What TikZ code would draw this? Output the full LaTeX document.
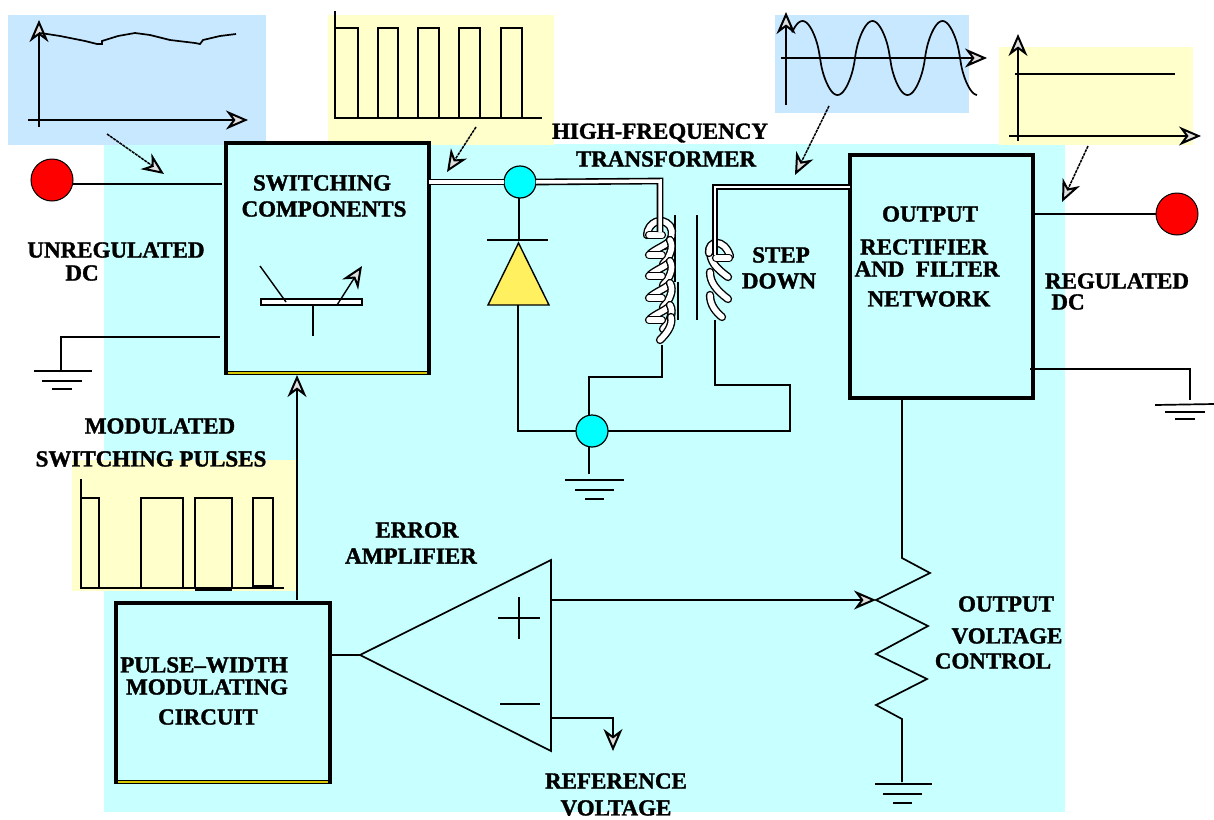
\documentclass[tikz,border=0pt]{standalone}
\usepackage{fontspec}
\setmainfont{Liberation Serif}[BoldFeatures={FakeBold=1.5}]
\usetikzlibrary{arrows.meta}
\definecolor{panelcyan}{HTML}{C8FFFF}
\definecolor{panelblue}{HTML}{C8E8FF}
\definecolor{panelyellow}{HTML}{FFFFCC}
\definecolor{stripcol}{HTML}{D8C800}
\definecolor{diodecol}{HTML}{FFF060}
\definecolor{jcyan}{HTML}{00FFFF}
\tikzset{
  lbl/.style={font=\fontsize{23}{24}\selectfont\bfseries,inner sep=0,outer sep=0},
  wire/.style={line width=1.7pt,line join=miter},
  thin wire/.style={line width=1.4pt},
  opentip/.style={-{Stealth[fill=white!75!gray,length=22pt,width=19pt,inset=7pt,line width=2pt]}},
  openarrow/.style={line width=1.5pt,opentip},
  dasharrow/.style={openarrow,dash pattern=on 3pt off 0.8pt},
  panel/.style={inner sep=0,outer sep=0,draw=none,anchor=north west},
  blockbox/.style={draw,line width=3.4pt,fill=panelcyan,inner sep=0,outer sep=0,anchor=north west},
  strip/.style={draw=stripcol,line width=2.2pt},
  termdot/.style={circle,draw,line width=1pt,fill=red,inner sep=0,outer sep=0,minimum size=42pt},
  junction/.style={circle,draw,line width=1.2pt,fill=jcyan,inner sep=0,outer sep=0,minimum size=32pt},
  dbl/.style={line width=1.6pt,double=white,double distance=3.5pt,line join=miter},
  dbls/.style={line width=1.4pt,double=white,double distance=2.6pt,line join=miter},
  coilw/.style={line width=1.4pt,double=white,double distance=5.5pt,line cap=round},
}
\newcommand{\turnP}[1]{%
  \draw[coilw] (650,#1-1) .. controls (656,#1-6) and (664,#1-9) .. (669,#1-13);
  \draw[coilw] (670,#1-15) .. controls (674,#1-8) and (670,#1+2) .. (663,#1+9);
  \draw[coilw] (662,#1) -- (649,#1);
}
\begin{document}
\begin{tikzpicture}[x=1pt,y=-1pt]
\useasboundingbox (0,0) rectangle (1214,819);
% background panels
\node[panel,fill=panelcyan,minimum width=961pt,minimum height=668pt] (bg) at (104,144) {};
\node[panel,fill=panelblue,minimum width=258pt,minimum height=130pt] (pa) at (8,15) {};
\node[panel,fill=panelyellow,minimum width=226pt,minimum height=130pt] (pb) at (328,15) {};
\node[panel,fill=panelblue,minimum width=194pt,minimum height=98pt] (pc) at (775,15) {};
\node[panel,fill=panelyellow,minimum width=194pt,minimum height=98pt] (pd) at (999,47) {};
\node[panel,fill=panelyellow,minimum width=225pt,minimum height=131pt] (pe) at (72,460) {};
% blocks
\node[blockbox,minimum width=203pt,minimum height=230pt] (sw) at (226,143) {};
\node[blockbox,minimum width=183pt,minimum height=243pt] (out) at (850,155) {};
\node[blockbox,minimum width=214pt,minimum height=179pt] (pwm) at (116,603) {};
\draw[strip] ([xshift=2pt,yshift=0.2pt]sw.south west) -- ([xshift=-2pt,yshift=0.2pt]sw.south east);
\draw[strip] ([xshift=2pt,yshift=0.2pt]pwm.south west) -- ([xshift=-2pt,yshift=0.2pt]pwm.south east);
% graph 1
\coordinate (a1b) at (39,127); \coordinate (a1t) at (39,20);
\coordinate (a1l) at (28,120); \coordinate (a1r) at (248,120);
\draw[openarrow] (a1b) -- (a1t);
\draw[openarrow] (a1l) -- (a1r);
\draw[wire] (39,33) -- (47,34) -- (60,36) -- (70,38) -- (85,41) -- (97,44) -- (102,44) -- (102,41) -- (118,36) -- (135,33) -- (150,35) -- (170,40) -- (195,43) -- (200,44) -- (203,40) -- (220,36) -- (236,34);
\coordinate (n1a) at (107,134); \coordinate (n1b) at (164,174);
\draw[dasharrow] (n1a) -- (n1b);
% graph 2
\draw[wire] (335,11) -- (335,118) -- (542,118);
\foreach \xa/\xb in {335/358,378/398,418/439,459/480,501/522}
  \draw[wire] (\xa,118) -- (\xa,28) -- (\xb,28) -- (\xb,118);
\coordinate (n2a) at (476,127); \coordinate (n2b) at (447,172);
\draw[dasharrow] (n2a) -- (n2b);
% graph 3
\coordinate (a3b) at (786,105); \coordinate (a3t) at (786,12);
\coordinate (a3l) at (781,58); \coordinate (a3r) at (987,58);
\draw[openarrow] (a3b) -- (a3t);
\draw[openarrow] (a3l) -- (a3r);
\draw[wire] plot[smooth,domain=792:977,samples=120] (\x,{58+37*sin((\x-820)/35*180)*(0.55+0.45/(0.3+abs(sin((\x-820)/35*180))))/(0.55+0.45/1.3)});
\coordinate (n3a) at (829,106); \coordinate (n3b) at (795,175);
\draw[dasharrow] (n3a) -- (n3b);
% graph 4
\coordinate (a4b) at (1018,141); \coordinate (a4t) at (1018,34);
\coordinate (a4l) at (1009,136); \coordinate (a4r) at (1201,136);
\draw[openarrow] (a4b) -- (a4t);
\draw[openarrow] (a4l) -- (a4r);
\draw[wire] (1015,74) -- (1175,74);
\coordinate (n4a) at (1088,146); \coordinate (n4b) at (1062,202);
\draw[dasharrow] (n4a) -- (n4b);
% graph 5
\draw[wire] (81,479) -- (81,588) -- (284,588);
\foreach \xa/\xb in {81/99,141/183,195/232,253/273}
  \draw[wire] (\xa,588) -- (\xa,498) -- (\xb,498) -- (\xb,588);
\draw[line width=3pt] (195,589) -- (232,589);
\draw[line width=3pt] (253,586) -- (273,586);
% terminals
\node[termdot] (tl) at (52,180) {};
\node[termdot] (tr) at (1177,214) {};
\coordinate (swi) at (222,184);
\draw[wire] (tl.east |- swi) -- (swi);
\coordinate (outo) at (1033,214);
\draw[wire] (outo) -- (tr);
% left ground
\coordinate (swg) at (220,337); \coordinate (gl) at (61,371);
\draw[wire] (swg) -| (gl);
\draw[wire] (34,371) -- (92,371); \draw[wire] (42,381) -- (82,381); \draw[wire] (52,389) -- (72,389);
% transistor
\node[draw,line width=1.4pt,fill=white,minimum width=101pt,minimum height=6pt,inner sep=0,outer sep=0] (tb) at (311.5,302) {};
\coordinate (tc) at (260,266); \coordinate (tcb) at (286,302);
\coordinate (te) at (362,266); \coordinate (teb) at (337,305);
\coordinate (tba) at (313,336);
\draw[thin wire] (tc) -- (tcb);
\draw[thin wire,opentip] (teb) -- (te);
\draw[wire] (tb.south -| tba) -- (tba);
% core
\draw[thin wire] (675,215) -- (675,282);
\draw[thin wire] (678,282) -- (678,320);
\draw[thin wire] (697,215) -- (697,320);
% primary
\node[junction] (j1) at (520,182) {};
\coordinate (pc1) at (660,181); \coordinate (pc2) at (660,232);
\draw[coilw] (647,235) .. controls (648,222) and (662,216) .. (670,226) .. controls (674,232) and (672,240) .. (665,246);
\draw[coilw] (662,235) -- (649,235);
\foreach \y in {255,276,298,320} { \turnP{\y} }
\draw[coilw] (671,317) .. controls (673,326) and (666,334) .. (660,340);
\draw[dbl] (sw.east |- j1) -- (j1);
\draw[dbl] (j1.east) -- (pc1) -- (pc2);
% secondary
\coordinate (sc1) at (715,187); \coordinate (sc2) at (715,255);
\draw[coilw] (710,295) .. controls (710,305) and (716,312) .. (722,317);
\draw[coilw] (710,272) .. controls (710,282) and (716,290) .. (728,299);
\draw[coilw] (710,250) .. controls (710,262) and (716,268) .. (728,277);
\draw[coilw] (709,253) .. controls (708,240) and (724,238) .. (730,256);
\draw[coilw] (716,258) -- (729,258);
\draw[dbls] (out.west |- sc1) -- (sc1) -- (sc2);
% diode
\coordinate (dt) at (519,240);
\draw[thin wire,fill=diodecol] (518.5,243) -- (549,305) -- (488,305) -- cycle;
\draw[wire] (487,240) -- (548,240);
\draw[wire] (j1.south -| dt) -- (dt);
% lower
\node[junction] (j2) at (592,431) {};
\coordinate (dgb) at (518,305); \coordinate (dgc) at (518,431);
\draw[wire] (dgb) -- (dgc) -- (j2);
\coordinate (pb1) at (662,345); \coordinate (pb2) at (589,377);
\draw[wire] (pb1) |- (pb2) -- (pb2 |- j2.north);
\coordinate (sb1) at (715,320); \coordinate (sb2) at (790,385);
\draw[wire] (sb1) |- (sb2) -- (sb2 |- j2) -- (j2);
\coordinate (g2) at (589,474);
\draw[wire] (j2.south -| g2) -- (g2);
\draw[wire] (565,480) -- (624,480); \draw[wire] (575,490) -- (614,490); \draw[wire] (585,499) -- (604,499);
% feedback up
\coordinate (fb) at (297,600); \coordinate (fbt) at (297,375);
\draw[openarrow] (fb) -- (fbt);
% output to pot
\coordinate (r1) at (902,558); \coordinate (r2) at (902,719); \coordinate (r3) at (902,782);
\draw[wire] (out.south -| r1) -- (r1) -- (930,573) -- (876,600) -- (928,626) -- (876,654) -- (927,679) -- (876,705) -- (r2) -- (r3);
\draw[wire] (875,784) -- (932,784); \draw[wire] (883,794) -- (922,794); \draw[wire] (893,803) -- (912,803);
% right ground
\coordinate (og) at (1030,369); \coordinate (og2) at (1190,400);
\draw[wire] (og) -| (og2);
\draw[wire] (1155,405) -- (1214,404); \draw[wire] (1165,412) -- (1205,412); \draw[wire] (1175,419) -- (1195,419);
% op amp
\node[inner sep=0,outer sep=0] (oa) at (360,655) {};
\draw[wire] (oa.center) -- (551,560) -- (551,751) -- cycle;
\draw[wire] (pwm.east |- oa) -- (oa);
\draw[wire] (498,618) -- (540,618); \draw[wire] (519,597) -- (519,639);
\draw[wire] (500,704) -- (540,704);
\coordinate (ip) at (552,600); \coordinate (ipe) at (876,600);
\draw[openarrow] (ip) -- (ipe);
\coordinate (rf) at (550,718); \coordinate (rfe) at (613,751);
\draw[wire] (rf) -| (613,722);
\draw[openarrow] (613,718) -- (rfe);
% labels
\node[lbl] (t01) at (116,250) {UNREGULATED};
\node[lbl] (t02) at (82,273) {DC};
\node[lbl] (t03) at (322,183) {SWITCHING};
\node[lbl] (t04) at (324,209) {COMPONENTS};
\node[lbl] (t05) at (660,133) {HIGH-FREQUENCY};
\node[lbl] (t06) at (666,159) {TRANSFORMER};
\node[lbl] (t07) at (781,255) {STEP};
\node[lbl] (t08) at (779,281) {DOWN};
\node[lbl] (t09) at (930,214) {OUTPUT};
\node[lbl] (t10) at (924,247) {RECTIFIER};
\node[lbl] (t11) at (927,269) {AND\ \ FILTER};
\node[lbl] (t12) at (929,299) {NETWORK};
\node[lbl] (t13) at (1117,281) {REGULATED};
\node[lbl] (t14) at (1068,302) {DC};
\node[lbl] (t15) at (160,426) {MODULATED};
\node[lbl] (t16) at (151,459) {SWITCHING PULSES};
\node[lbl] (t17) at (417,530) {ERROR};
\node[lbl] (t18) at (411,556) {AMPLIFIER};
\node[lbl] (t19) at (204,665) {PULSE–WIDTH};
\node[lbl] (t20) at (207,687) {MODULATING};
\node[lbl] (t21) at (208,717) {CIRCUIT};
\node[lbl] (t22) at (616,781) {REFERENCE};
\node[lbl] (t23) at (616,808) {VOLTAGE};
\node[lbl] (t24) at (1006,604) {OUTPUT};
\node[lbl] (t25) at (1007,636) {VOLTAGE};
\node[lbl] (t26) at (993,661) {CONTROL};
\end{tikzpicture}
\end{document}
